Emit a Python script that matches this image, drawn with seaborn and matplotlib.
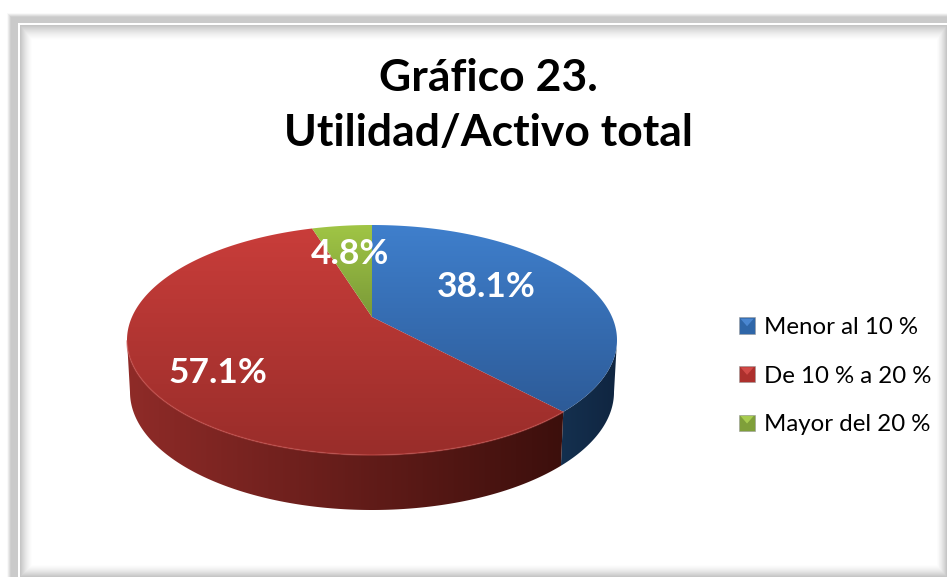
import numpy as np
import matplotlib
matplotlib.use("Agg")
import matplotlib.pyplot as plt
from matplotlib.legend_handler import HandlerBase
from matplotlib.patches import Patch, Polygon, Rectangle
import seaborn as sns

sns.set_theme(style="white")
plt.rcParams["font.family"] = ["Lato", "DejaVu Sans"]

# Data
title = "Gráfico 23.\nUtilidad/Activo total"
categories = ["Menor al 10 %", "De 10 % a 20 %", "Mayor del 20 %"]
values = [38.1, 57.1, 4.8]

# Colours for each slice: top face (light, dark) and side wall (left, right)
top_colors = [("#3f7fcc", "#2d5b98"), ("#c93d3a", "#992d2a"), ("#a0c545", "#7a9a38")]
wall_colors = [("#14304f", "#102540"), ("#8f2b28", "#3c0f0c"), ("#6a8530", "#5a7028")]
legend_colors = [("#2f66a8", "#4a86d0"), ("#ad302d", "#d24a47"), ("#7f9f3a", "#a8cc50")]
label_pos = [(486, 287), (218, 373), (350, 254)]

W, H = 947, 577
TILT = 0.2
FRONT = np.degrees(np.arcsin(TILT))  # wall is seen between the tangent angles


def warp(x, y, cx, cy, rx, ry):
    # perspective view of the unit circle, the apex sits above the ellipse centre
    d = 1 + TILT * y
    return cx + rx * np.sqrt(1 - TILT**2) * x / d, cy - ry * (y + TILT) / d


def gradient_fill(ax, pts, cols, horizontal, zorder):
    patch = Polygon(pts, closed=True, facecolor="none", edgecolor="none", zorder=zorder)
    ax.add_patch(patch)
    cmap = sns.blend_palette(cols, as_cmap=True)
    ramp = np.linspace(0, 1, 256)
    ramp = ramp[None, :] if horizontal else ramp[:, None]
    x0, y0 = pts.min(axis=0)
    x1, y1 = pts.max(axis=0)
    im = ax.imshow(ramp, cmap=cmap, vmin=0, vmax=1, aspect="auto", zorder=zorder,
                   extent=(x0, x1, y1, y0), interpolation="bilinear")
    im.set_clip_path(patch)


class BevelHandler(HandlerBase):
    # legend square: darker body, lighter triangle from the top edge
    def create_artists(self, legend, orig, xd, yd, width, height, fontsize, trans):
        x0, y0 = -xd, -yd
        body = Rectangle((x0, y0), width, height, facecolor=orig.get_facecolor(),
                         edgecolor="#9a9a9a", linewidth=0.4, transform=trans)
        tri = Polygon([(x0 + 1, y0 + height - 1), (x0 + width - 1, y0 + height - 1),
                       (x0 + width / 2, y0 + height * 0.45)], closed=True,
                      facecolor=orig.get_edgecolor(), edgecolor="none", transform=trans)
        return [body, tri]


fig = plt.figure(figsize=(W / 100, H / 100), dpi=100)
ax = fig.add_axes([0, 0, 1, 1])

# Pie in unit coordinates, its wedge angles then get projected
wedges, _, autotexts = ax.pie(values, startangle=90, counterclock=False, autopct="%.1f%%")

# Frame with the soft shadow
xx, yy = np.meshgrid(np.arange(W) + 0.5, np.arange(H) + 0.5)
shade = np.maximum.reduce([
    np.clip((33 - xx) / 13, 0, 1) ** 1.5,
    np.clip((41 - yy) / 16, 0, 1) ** 1.5,
    np.clip((xx - 936) / 11, 0, 1) ** 1.5,
    np.clip((yy - 564) / 13, 0, 1) ** 1.5,
])
frame = 1 - 0.24 * shade
frame[(xx < 20) | (yy < 25)] = 1
band = ((xx >= 7) & (yy >= 13)) & ((xx < 18) | (yy < 23))
edge = np.clip(np.minimum(xx - 7, yy - 13) / 4, 0, 1)
frame[band] = 1 - 0.21 * edge[band]
ax.imshow(frame, cmap="gray", vmin=0, vmax=1, extent=(0, W, H, 0), aspect="auto", zorder=0)

# Side walls, only the part facing the viewer
for w, wc in zip(wedges, wall_colors):
    lo, hi = max(w.theta1, -180 + FRONT), min(w.theta2, -FRONT)
    if hi <= lo:
        continue
    t = np.radians(np.linspace(lo, hi, 200))
    tx, ty = warp(np.cos(t), np.sin(t), 372, 340, 245, 115)
    bx, by = warp(np.cos(t), np.sin(t), 372, 392, 242, 118)
    pts = np.column_stack([np.r_[tx, bx[::-1]], np.r_[ty, by[::-1]]])
    gradient_fill(ax, pts, wc, True, 2)

# Top faces
for i, (w, tc) in enumerate(zip(wedges, top_colors)):
    t = np.radians(np.linspace(w.theta1, w.theta2, 200))
    ax_, ay_ = warp(0.0, 0.0, 372, 340, 245, 115)
    tx, ty = warp(np.cos(t), np.sin(t), 372, 340, 245, 115)
    pts = np.column_stack([np.r_[ax_, tx], np.r_[ay_, ty]])
    gradient_fill(ax, pts, tc, False, 3)
    if i == 1:
        front = np.degrees(t) > -180 + FRONT
        ax.plot(tx[front], ty[front], color="#c9504d", lw=1.2, alpha=0.5, zorder=4)
    w.remove()

for txt, pos in zip(autotexts, label_pos):
    txt.set_position(pos)
    txt.set(color="white", fontweight="bold", fontsize=25.5, ha="center", va="center", zorder=6)

ax.text(488, 105.5, title, ha="center", va="center", fontsize=32, fontweight="bold",
        color="black", linespacing=1.47, zorder=6)

handles = [Patch(facecolor=c, edgecolor=e) for c, e in legend_colors]
ax.legend(handles, categories, loc="center left", bbox_to_anchor=(739 / W, 1 - 376 / H),
          frameon=False, fontsize=17.3, handlelength=0.67, handleheight=0.67,
          handletextpad=0.37, labelspacing=1.15, borderpad=0, borderaxespad=0,
          labelcolor="black", handler_map={Patch: BevelHandler()})

ax.set_aspect("auto")
ax.set_xlim(0, W)
ax.set_ylim(H, 0)
ax.axis("off")

fig.savefig("out.png", dpi=100)
